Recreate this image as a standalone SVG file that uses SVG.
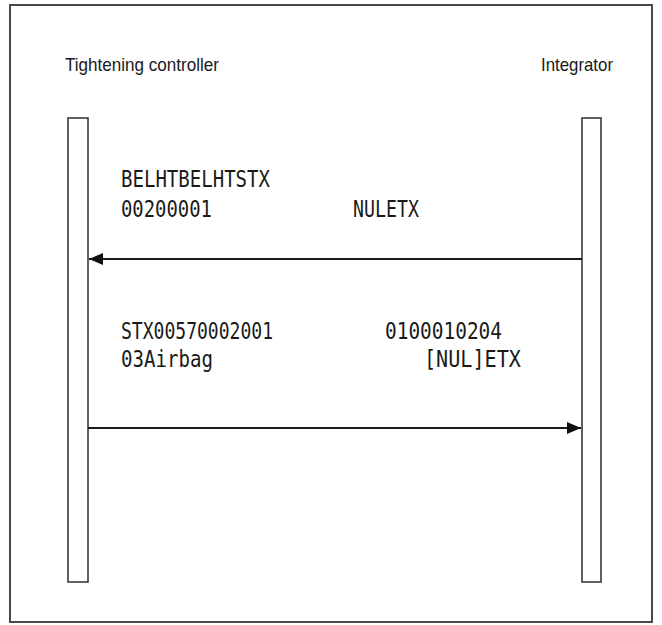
<svg xmlns="http://www.w3.org/2000/svg" width="662" height="625" viewBox="0 0 662 625">
<style>
.frame{fill:#fff;stroke:#4a4a4a;stroke-width:2}
.life{fill:#fff;stroke:#3a3a3a;stroke-width:1.6}
.hdr{font-family:"Liberation Sans",Arial,sans-serif;font-size:19px;fill:#1a1a1a}
.msg{font-family:"DejaVu Sans Mono","Liberation Mono",monospace;font-size:23px;fill:#1a1a1a}
.conn{stroke:#1a1a1a;stroke-width:2;fill:none}
</style>
<defs>
<marker id="ah" viewBox="0 0 14 12" refX="14" refY="6" markerWidth="14" markerHeight="12" markerUnits="userSpaceOnUse" orient="auto">
<path d="M0,0 L14,6 L0,12 Z" fill="#111"/>
</marker>
</defs>
<rect class="frame" x="10" y="5" width="642" height="617"/>
<g id="tightening-controller">
<text class="hdr" x="65" y="71" textLength="154" lengthAdjust="spacingAndGlyphs">Tightening controller</text>
<rect class="life" x="68" y="118" width="20" height="464"/>
</g>
<g id="integrator">
<text class="hdr" x="541" y="71" textLength="72" lengthAdjust="spacingAndGlyphs">Integrator</text>
<rect class="life" x="582" y="118" width="19" height="464"/>
</g>
<g id="connectors">
<line class="conn" x1="582" y1="259" x2="89" y2="259" marker-end="url(#ah)"/>
<line class="conn" x1="88" y1="428" x2="581" y2="428" marker-end="url(#ah)"/>
</g>
<g id="labels">
<text class="msg" x="121" y="187" textLength="149" lengthAdjust="spacingAndGlyphs">BELHTBELHTSTX</text>
<text class="msg" x="121" y="217" textLength="91" lengthAdjust="spacingAndGlyphs">00200001</text>
<text class="msg" x="353" y="217" textLength="66" lengthAdjust="spacingAndGlyphs">NULETX</text>
<text class="msg" x="121" y="339" textLength="152" lengthAdjust="spacingAndGlyphs">STX00570002001</text>
<text class="msg" x="385" y="339" textLength="117" lengthAdjust="spacingAndGlyphs">0100010204</text>
<text class="msg" x="121" y="367" textLength="92" lengthAdjust="spacingAndGlyphs">03Airbag</text>
<text class="msg" x="424" y="367" textLength="97" lengthAdjust="spacingAndGlyphs">[NUL]ETX</text>
</g>
</svg>
